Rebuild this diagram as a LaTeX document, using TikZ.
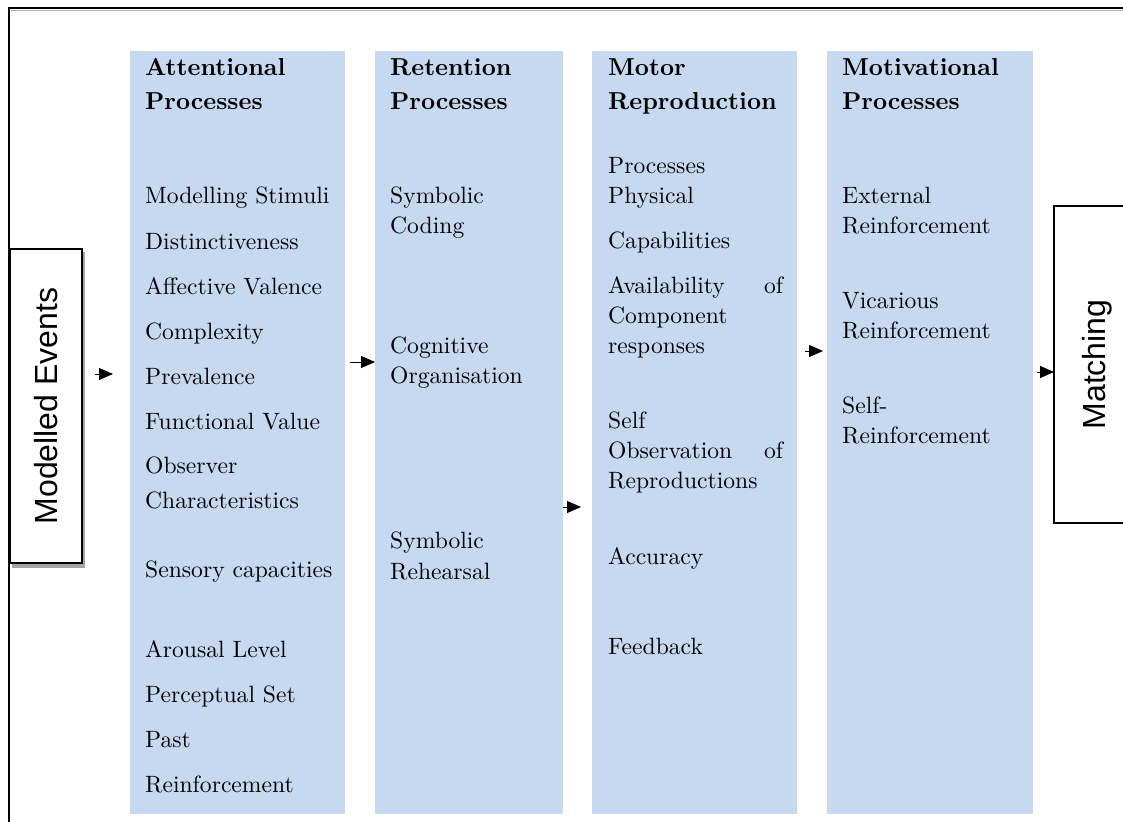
\documentclass[tikz,border=0pt]{standalone}
\usepackage{fontspec}
\setmainfont{lmroman10-regular.otf}[BoldFont=lmroman10-bold.otf]
\newfontfamily\arialish{Liberation Sans}
\usetikzlibrary{arrows.meta}
\definecolor{colblue}{HTML}{C6D9F1}
\tikzset{
  colbox/.style={fill=colblue, draw=none},
  txt/.style={anchor=base west, inner sep=0pt, font=\fontsize{23.6}{28}\selectfont},
  hdr/.style={anchor=base west, inner sep=0pt, font=\fontsize{24.5}{28}\selectfont\bfseries},
  sidebox/.style={draw=black, line width=1.1pt, fill=white, inner sep=0pt, font=\arialish\fontsize{32}{36}\selectfont},
  arr/.style={line width=1pt, -{Triangle[length=14pt,width=12pt]}},
  frame/.style={line width=2pt, black}
}
\begin{document}
\begin{tikzpicture}[x=1pt,y=-1pt]
\useasboundingbox (0,0) rectangle (1123,821);
\clip (0,0) rectangle (1123,821);
% outer frame
\draw[gray!60, line width=1.5pt] (11,10.5) -- (1130,10.5);
\draw[frame] (9,840) -- (9,8) -- (1130,8);
% columns
\fill[colbox] (130,51) rectangle (345,814);
\fill[colbox] (375,51) rectangle (563,814);
\fill[colbox] (592,51) rectangle (797,814);
\fill[colbox] (827,51) rectangle (1033,814);
% side boxes
\fill[gray!70] (12,252) rectangle (85,568);
\node[sidebox, rotate=90, minimum width=314pt, minimum height=72pt] (me) at (46,406) {Modelled Events};
\node[sidebox, rotate=90, minimum width=317pt, minimum height=86pt] (match) at (1097,364.5) {Matching};
% column 1
\node[hdr] (h1a) at (145,76) {Attentional};
\node[hdr] (h1b) at (145,110) {Processes};
\node[txt] (c1a) at (145,204) {Modelling Stimuli};
\node[txt] (c1b) at (145,249) {Distinctiveness};
\node[txt] (c1c) at (145,294) {Affective Valence};
\node[txt] (c1d) at (145,339) {Complexity};
\node[txt] (c1e) at (145,384) {Prevalence};
\node[txt] (c1f) at (145,429) {Functional Value};
\node[txt] (c1g) at (145,473) {Observer};
\node[txt] (c1h) at (145,508) {Characteristics};
\node[txt] (c1i) at (145,577) {Sensory capacities};
\node[txt] (c1j) at (145,657) {Arousal Level};
\node[txt] (c1k) at (145,702) {Perceptual Set};
\node[txt] (c1l) at (145,747) {Past};
\node[txt] (c1m) at (145,792) {Reinforcement};
% column 2
\node[hdr] (h2a) at (390,76) {Retention};
\node[hdr] (h2b) at (390,110) {Processes};
\node[txt] (c2a) at (390,203) {Symbolic};
\node[txt] (c2b) at (390,233) {Coding};
\node[txt] (c2c) at (390,353) {Cognitive};
\node[txt] (c2d) at (390,383) {Organisation};
\node[txt] (c2e) at (390,548) {Symbolic};
\node[txt] (c2f) at (390,579) {Rehearsal};
% column 3
\node[hdr] (h3a) at (608,76) {Motor};
\node[hdr] (h3b) at (608,110) {Reproduction};
\node[txt] (c3a) at (608,173) {Processes};
\node[txt] (c3b) at (608,203) {Physical};
\node[txt] (c3c) at (608,248) {Capabilities};
\node[txt] (c3d) at (608,293) {\hbox to 175pt{Availability\hfill of}};
\node[txt] (c3e) at (608,323) {Component};
\node[txt] (c3f) at (608,353) {responses};
\node[txt] (c3g) at (608,428) {Self};
\node[txt] (c3h) at (608,458) {\hbox to 175pt{Observation\hfill of}};
\node[txt] (c3i) at (608,488) {Reproductions};
\node[txt] (c3j) at (608,564) {Accuracy};
\node[txt] (c3k) at (608,654) {Feedback};
% column 4
\node[hdr] (h4a) at (842,76) {Motivational};
\node[hdr] (h4b) at (842,110) {Processes};
\node[txt] (c4a) at (842,203) {External};
\node[txt] (c4b) at (842,233) {Reinforcement};
\node[txt] (c4c) at (842,308) {Vicarious};
\node[txt] (c4d) at (842,338) {Reinforcement};
\node[txt] (c4e) at (842,413) {Self-};
\node[txt] (c4f) at (842,443) {Reinforcement};
% arrows
\coordinate (a1s) at (95,374);  \coordinate (a1e) at (113,374);
\coordinate (a2s) at (350,362); \coordinate (a2e) at (375,362);
\coordinate (a3s) at (563,507); \coordinate (a3e) at (581,507);
\coordinate (a4s) at (805,351); \coordinate (a4e) at (823,351);
\coordinate (a5s) at (1037,372); \coordinate (a5e) at (1054,372);
\draw[arr] (a1s) -- (a1e);
\draw[arr] (a2s) -- (a2e);
\draw[arr] (a3s) -- (a3e);
\draw[arr] (a4s) -- (a4e);
\draw[arr] (a5s) -- (a5e);
\end{tikzpicture}
\end{document}
